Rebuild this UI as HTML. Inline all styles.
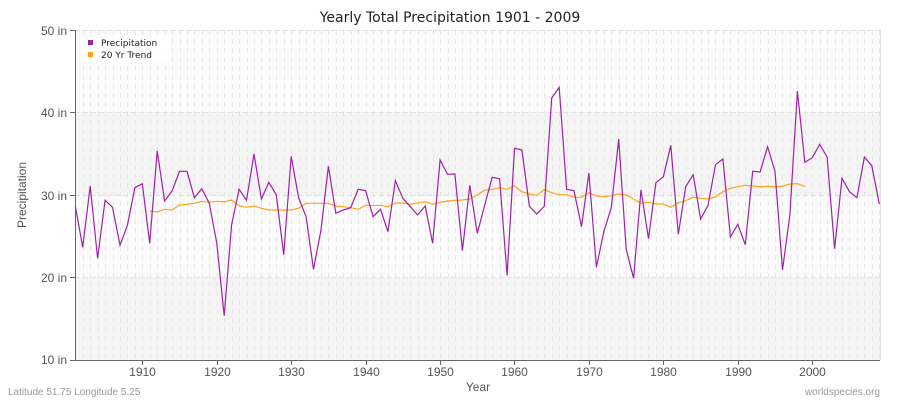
<!DOCTYPE html>
<html><head><style>
body{margin:0;background:#fff;}
svg{font-family:"Liberation Sans",sans-serif;}
</style></head><body>
<svg id="s" width="900" height="400" xmlns="http://www.w3.org/2000/svg">
<rect x="0" y="0" width="900" height="400" fill="#fff"/>
<rect x="75" y="30" width="805" height="82" fill="#fbfbfb"/>
<rect x="75" y="112" width="805" height="83" fill="#f4f4f4"/>
<rect x="75" y="195" width="805" height="82" fill="#fbfbfb"/>
<rect x="75" y="277" width="805" height="83" fill="#f4f4f4"/>
<g id="vg" stroke="#e6e6e6" stroke-dasharray="5,4" stroke-width="1"></g>
<g stroke="#e2e2e2" stroke-dasharray="5,3">
<line x1="75" y1="30.5" x2="880" y2="30.5"/>
<line x1="75" y1="112.5" x2="880" y2="112.5"/>
<line x1="75" y1="195.5" x2="880" y2="195.5"/>
<line x1="75" y1="277.5" x2="880" y2="277.5"/>
</g>
<line x1="880.5" y1="30" x2="880.5" y2="360" stroke="#ddd"/>
<polyline id="tr" fill="none" stroke="#ffa31a" stroke-width="1.2"/>
<polyline id="pr" fill="none" stroke="#a020a8" stroke-width="1.2"/>
<line x1="75.5" y1="30" x2="75.5" y2="360" stroke="#666"/>
<line x1="75" y1="360.5" x2="880" y2="360.5" stroke="#666"/>
<g stroke="#666">
<line x1="70" y1="30.5" x2="75" y2="30.5"/><line x1="70" y1="112.5" x2="75" y2="112.5"/>
<line x1="70" y1="195.5" x2="75" y2="195.5"/><line x1="70" y1="277.5" x2="75" y2="277.5"/>
<line x1="70" y1="360.5" x2="75" y2="360.5"/>
</g>
<g id="xt" stroke="#666"></g>
<g font-size="12" fill="#555" text-anchor="end">
<text x="67" y="35">50 in</text><text x="67" y="117">40 in</text>
<text x="67" y="200">30 in</text><text x="67" y="282">20 in</text><text x="67" y="364">10 in</text>
</g>
<g id="xl" font-size="12" fill="#555" text-anchor="middle"></g>
<text x="450" y="22" font-size="14" text-anchor="middle" fill="#222" style="font-family:'DejaVu Sans',sans-serif">Yearly Total Precipitation 1901 - 2009</text>
<text x="478" y="391" font-size="12" text-anchor="middle" fill="#555">Year</text>
<text x="26" y="195" font-size="12" text-anchor="middle" fill="#555" transform="rotate(-90 26 195)">Precipitation</text>
<text x="8" y="395" font-size="10" fill="#999">Latitude 51.75 Longitude 5.25</text>
<text x="880" y="395" font-size="10" fill="#999" text-anchor="end">worldspecies.org</text>
<rect x="80" y="35" width="90" height="28" rx="3" fill="#fff" opacity="0.9"/>
<rect x="88" y="40" width="5" height="5" fill="#a020a8"/>
<rect x="88" y="52" width="5" height="5" fill="#ffa31a"/>
<g style="font-family:'DejaVu Sans',sans-serif" font-size="9" fill="#222">
<text x="101" y="46">Precipitation</text>
<text x="101" y="58">20 Yr Trend</text>
</g>
</svg>
<script>
var P=[378,502,318,535,361,382,496,436,323,311,490,213,363,333,274,274,353,326,370,488,707,435,328,361,222,357,307,345,524,229,353,410,568,450,259,400,390,383,328,332,410,388,455,302,355,380,405,378,490,240,283,282,512,316,460,375,292,296,586,205,210,379,402,379,54,22,328,332,440,279,562,455,383,177,508,595,330,476,308,290,196,463,320,284,417,376,254,237,471,433,494,274,276,200,274,570,404,33,247,233,193,231,506,295,335,353,231,257,372];
var T=[393,396,388,390,375,373,370,364,367,364,366,360,377,382,378,385,390,390,390,390,385,370,370,370,370,378,380,383,388,376,377,376,380,369,369,373,369,365,373,367,363,361,360,357,345,330,328,323,328,318,335,343,346,329,338,344,344,352,352,338,348,350,347,342,345,357,370,367,372,372,382,368,362,352,355,357,350,335,325,320,316,318,320,319,320,319,312,311,319];
function X(i){return 75.3+7.444*i;}
document.getElementById('pr').setAttribute('points',P.map(function(v,i){return X(i).toFixed(1)+','+(80+v/3).toFixed(1)}).join(' '));
document.getElementById('tr').setAttribute('points',T.map(function(v,i){return X(i+10).toFixed(1)+','+(80+v/3).toFixed(1)}).join(' '));
var ns='http://www.w3.org/2000/svg',vg=document.getElementById('vg'),xt=document.getElementById('xt'),xl=document.getElementById('xl');
for(var i=1;i<=108;i++){var l=document.createElementNS(ns,'line');var x=Math.round(X(i))+0.5;l.setAttribute('x1',x);l.setAttribute('x2',x);l.setAttribute('y1',30);l.setAttribute('y2',360);vg.appendChild(l);}
for(var y=1910;y<=2000;y+=10){var i=y-1901,x=Math.round(X(i))+0.5;var l=document.createElementNS(ns,'line');l.setAttribute('x1',x);l.setAttribute('x2',x);l.setAttribute('y1',360);l.setAttribute('y2',365);xt.appendChild(l);
var t=document.createElementNS(ns,'text');t.setAttribute('x',x);t.setAttribute('y',376);t.textContent=y;xl.appendChild(t);}
</script>
</body></html>
